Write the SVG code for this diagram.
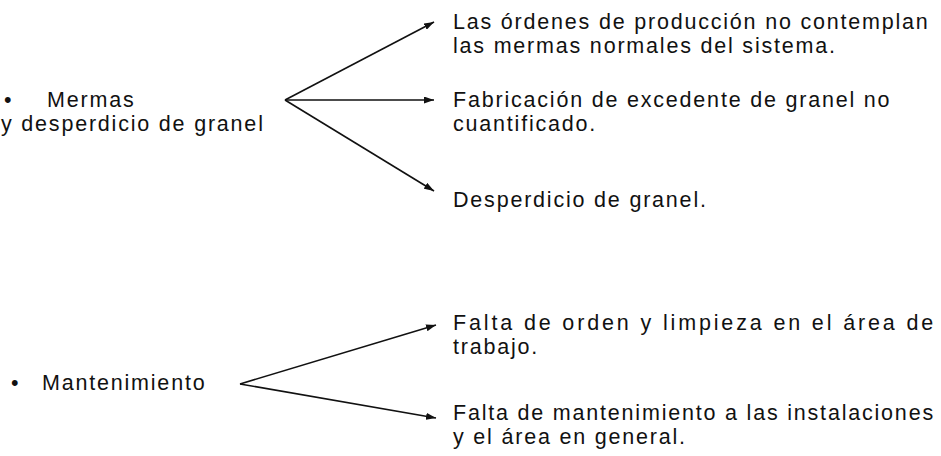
<svg xmlns="http://www.w3.org/2000/svg" width="941" height="456" viewBox="0 0 941 456">
<style>
  text { font-family: "Liberation Sans", Arial, sans-serif; font-size: 21.5px; fill: #111; letter-spacing: 1.8px; }
  .conn line { stroke: #111; stroke-width: 1.6; fill: none; marker-end: url(#ah); }
</style>
<defs>
  <marker id="ah" viewBox="0 0 10 7" refX="10" refY="3.5" markerWidth="10" markerHeight="7" markerUnits="userSpaceOnUse" orient="auto">
    <path d="M0,0 L10,3.5 L0,7 Z" fill="#111"/>
  </marker>
</defs>
<rect width="941" height="456" fill="#fff"/>
<g id="mermas">
  <text x="4" y="107">•</text>
  <text x="47" y="107">Mermas</text>
  <text x="1" y="130.5">y desperdicio de granel</text>
</g>
<g id="ordenes">
  <text x="453" y="29">Las órdenes de producción no contemplan</text>
  <text x="453" y="52.5">las mermas normales del sistema.</text>
</g>
<g id="fabricacion">
  <text x="453" y="107">Fabricación de excedente de granel no</text>
  <text x="453" y="130.5">cuantificado.</text>
</g>
<g id="desperdicio">
  <text x="453" y="207">Desperdicio de granel.</text>
</g>
<g id="mantenimiento">
  <text x="11" y="390">•</text>
  <text x="42" y="390">Mantenimiento</text>
</g>
<g id="orden">
  <text x="453" y="330" textLength="482" lengthAdjust="spacing">Falta de orden y limpieza en el área de</text>
  <text x="453" y="353.5">trabajo.</text>
</g>
<g id="instalaciones">
  <text x="453" y="420">Falta de mantenimiento a las instalaciones</text>
  <text x="453" y="443.5">y el área en general.</text>
</g>
<g class="conn" id="connectors">
  <line x1="285" y1="100" x2="434" y2="22"/>
  <line x1="285" y1="100" x2="434" y2="100"/>
  <line x1="285" y1="100" x2="434" y2="191"/>
  <line x1="240" y1="384" x2="436" y2="325"/>
  <line x1="240" y1="384" x2="436" y2="418"/>
</g>
</svg>
